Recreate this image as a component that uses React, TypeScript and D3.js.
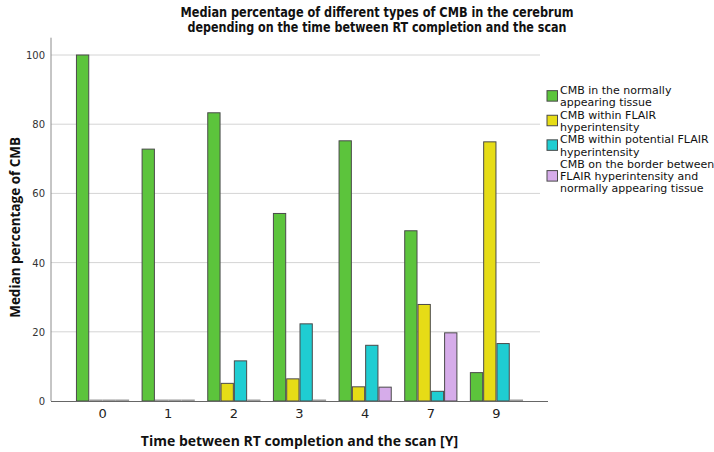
import * as d3 from "d3";
import { useEffect, useRef } from "react";

// time between RT completion and the scan [Y]
const categories = ["0", "1", "2", "3", "4", "7", "9"];

// median percentage of each CMB type
const normalTissue = [100, 72.8, 83.3, 54.2, 75.2, 49.2, 8.2];
const withinFlair = [0, 0, 5.1, 6.4, 4.1, 27.9, 74.9];
const potentialFlair = [0, 0, 11.6, 22.3, 16.1, 2.8, 16.6];
const borderFlair = [0, 0, 0, 0, 4.0, 19.7, 0];

const seriesNames = ["normal", "within", "potential", "border"];
const seriesValues = [normalTissue, withinFlair, potentialFlair, borderFlair];
const seriesColors = ["#5cc43c", "#e6dc16", "#1fcdd2", "#d6acea"];
const legendLines = [
  ["CMB in the normally", "appearing tissue"],
  ["CMB within FLAIR", "hyperintensity"],
  ["CMB within potential FLAIR", "hyperintensity"],
  ["CMB on the border between", "FLAIR hyperintensity and", "normally appearing tissue"],
];

const yTicks = [0, 20, 40, 60, 80, 100];

const W = 714;
const H = 452;

export const CmbChart = () => {
  const ref = useRef(null);

  const dims = {
    left: 51,
    right: 548,
    gridRight: 540,
    top: 37.7,
    bottom: 401,
  };
  const { left, right, gridRight, top, bottom } = dims;

  useEffect(() => {
    const svg = d3.select(ref.current);
    svg.selectAll("*").remove();

    const x = d3
      .scaleBand()
      .domain(categories)
      .range([left, right])
      .paddingInner(0.19)
      .paddingOuter(0.38);
    const xInner = d3.scaleBand().domain(seriesNames).range([0, x.bandwidth()]);
    const y = d3.scaleLinear().domain([0, 105]).range([bottom, top]);

    const rows = [];
    seriesValues.forEach((vals, s) => {
      vals.forEach((v, i) => {
        rows.push({ cat: categories[i], series: seriesNames[s], value: v, color: seriesColors[s] });
      });
    });

    // gridlines
    svg
      .append("g")
      .selectAll("line")
      .data(yTicks.filter((t) => t > 0))
      .enter()
      .append("line")
      .attr("x1", left)
      .attr("x2", gridRight)
      .attr("y1", (d) => y(d))
      .attr("y2", (d) => y(d))
      .style("stroke", "#d4d4d4")
      .style("stroke-width", 1);

    // y tick labels
    svg
      .append("g")
      .selectAll("text")
      .data(yTicks)
      .enter()
      .append("text")
      .attr("x", left - 6)
      .attr("y", (d) => y(d) + 4)
      .attr("text-anchor", "end")
      .style("font-family", "DejaVu Sans")
      .style("font-size", "10px")
      .style("fill", "#333")
      .text((d) => d);

    // bars
    const bars = rows.filter((d) => d.value > 0);
    svg
      .append("g")
      .selectAll("rect")
      .data(bars)
      .enter()
      .append("rect")
      .attr("x", (d) => x(d.cat) + xInner(d.series) + 0.5)
      .attr("y", (d) => y(d.value))
      .attr("width", xInner.bandwidth() - 1)
      .attr("height", (d) => bottom - y(d.value))
      .attr("fill", (d) => d.color)
      .style("stroke", "#4a4a4a")
      .style("stroke-width", 1);

    // zero-valued bars show as a flat line on the baseline
    svg
      .append("g")
      .selectAll("line")
      .data(rows.filter((d) => d.value === 0))
      .enter()
      .append("line")
      .attr("x1", (d) => x(d.cat) + xInner(d.series))
      .attr("x2", (d) => x(d.cat) + xInner(d.series) + xInner.bandwidth())
      .attr("y1", bottom - 0.5)
      .attr("y2", bottom - 0.5)
      .style("stroke", "#9a9a9a")
      .style("stroke-width", 2);

    // axes
    svg
      .append("line")
      .attr("x1", left)
      .attr("x2", left)
      .attr("y1", top)
      .attr("y2", bottom)
      .style("stroke", "#8c8c8c")
      .style("stroke-width", 1);
    svg
      .append("line")
      .attr("x1", left)
      .attr("x2", right)
      .attr("y1", bottom + 0.5)
      .attr("y2", bottom + 0.5)
      .style("stroke", "#666")
      .style("stroke-width", 1);

    // x tick labels
    svg
      .append("g")
      .selectAll("text")
      .data(categories)
      .enter()
      .append("text")
      .attr("x", (d) => x(d) + x.bandwidth() / 2)
      .attr("y", bottom + 17)
      .attr("text-anchor", "middle")
      .style("font-family", "DejaVu Sans")
      .style("font-size", "13px")
      .style("fill", "#222")
      .text((d) => d);

    // axis titles
    svg
      .append("text")
      .attr("x", (left + right) / 2)
      .attr("y", bottom + 45)
      .attr("text-anchor", "middle")
      .style("font-family", "Open Sans")
      .style("font-weight", "bold")
      .style("font-size", "14px")
      .style("fill", "#111")
      .text("Time between RT completion and the scan [Y]");

    svg
      .append("text")
      .attr("transform", `translate(20,${(top + bottom) / 2 + 8}) rotate(-90)`)
      .attr("text-anchor", "middle")
      .style("font-family", "Open Sans")
      .style("font-weight", "bold")
      .style("font-size", "13.5px")
      .style("fill", "#111")
      .text("Median percentage of CMB");

    // chart title (narrow bold face, squeezed to the original width)
    const titleLines = [
      { text: "Median percentage of different types of CMB in the cerebrum", y: 17, len: 393 },
      { text: "depending on the time between RT completion and the scan", y: 32, len: 379 },
    ];
    svg
      .append("g")
      .selectAll("text")
      .data(titleLines)
      .enter()
      .append("text")
      .attr("x", 377)
      .attr("y", (d) => d.y)
      .attr("text-anchor", "middle")
      .attr("textLength", (d) => d.len)
      .attr("lengthAdjust", "spacingAndGlyphs")
      .style("font-family", "'DejaVu Sans Condensed', sans-serif")
      .style("font-weight", "bold")
      .style("font-size", "13.5px")
      .style("fill", "#111")
      .text((d) => d.text);

    // legend
    const legendX = 547;
    const lineH = 12.3;
    let line = 0;
    legendLines.forEach((lines, s) => {
      const swatchLine = lines.length === 3 ? line + 1 : line + 0.5;
      svg
        .append("rect")
        .attr("x", legendX)
        .attr("y", 90 + swatchLine * lineH - 5.5)
        .attr("width", 10.5)
        .attr("height", 10.5)
        .attr("fill", seriesColors[s])
        .style("stroke", "#4a4a4a")
        .style("stroke-width", 1);
      lines.forEach((t) => {
        svg
          .append("text")
          .attr("x", legendX + 13)
          .attr("y", 90 + line * lineH + 4)
          .style("font-family", "DejaVu Sans")
          .style("font-size", "11px")
          .style("fill", "#111")
          .text(t);
        line += 1;
      });
    });
  }, []);

  return (
    <svg
      ref={ref}
      width={W}
      height={H}
      style={{ position: "absolute", left: 0, top: 0, background: "#fff" }}
    ></svg>
  );
};

export default function App() {
  return <CmbChart />;
}
